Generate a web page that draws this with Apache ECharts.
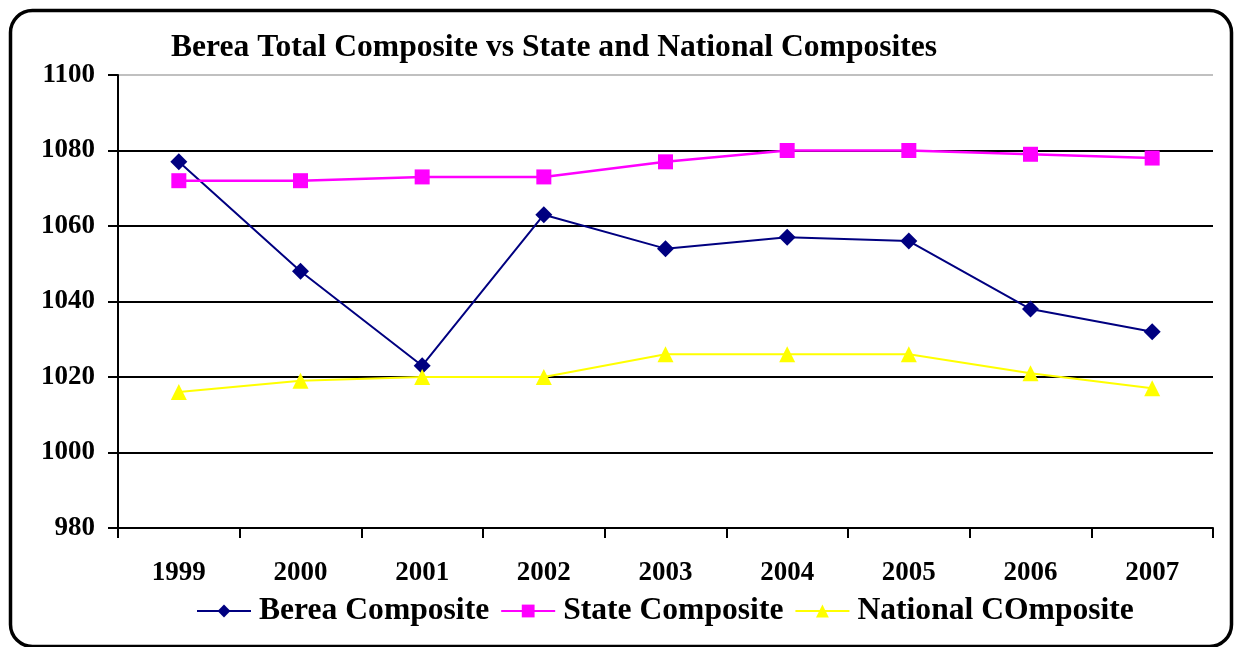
<!DOCTYPE html>
<html><head><meta charset="utf-8">
<script src="https://cdn.jsdelivr.net/npm/echarts@6/dist/echarts.min.js"></script>
<style>html,body{margin:0;padding:0;background:#fff}#c{width:1235px;height:647px}</style>
</head><body><div id="c"></div>
<script>
const categories = ['1999','2000','2001','2002','2003','2004','2005','2006','2007'];
const bereaComposite = [1077,1048,1023,1063,1054,1057,1056,1038,1032];
const stateComposite = [1072,1072,1073,1073,1077,1080,1080,1079,1078];
const nationalComposite = [1016,1019,1020,1020,1026,1026,1026,1021,1017];
const yTicks = {min:980, max:1100, interval:20};

const F = '"Liberation Serif","Times New Roman",serif';
const chart = echarts.init(document.getElementById('c'));
chart.setOption({
  animation:false,
  graphic:[{type:'rect', left:8, top:8, shape:{width:1221, height:636, r:22}, style:{fill:'none', stroke:'#000', lineWidth:3.5}, z:100}],
  title:{text:'Berea Total Composite vs State and National Composites', left:166, top:27,
    textStyle:{fontFamily:F, fontWeight:'bold', fontSize:31.6, color:'#000'}},
  legend:{top:590, left:191, itemWidth:54, itemHeight:16, itemGap:11,
    textStyle:{fontFamily:F, fontWeight:'bold', fontSize:31.6, color:'#000', padding:[0,0,0,3]},
    data:['Berea Composite','State Composite','National COmposite']},
  grid:{left:118, right:22, top:75, bottom:119},
  xAxis:{type:'category', data:categories, boundaryGap:true,
    axisLine:{lineStyle:{color:'#000', width:2}},
    axisTick:{show:true, length:10, lineStyle:{color:'#000', width:2}},
    axisLabel:{fontFamily:F, fontWeight:'bold', fontSize:27, color:'#000', margin:32}},
  yAxis:{type:'value', min:yTicks.min, max:yTicks.max, interval:yTicks.interval,
    axisLine:{show:true, lineStyle:{color:'#000', width:2}},
    axisTick:{show:true, length:10, lineStyle:{color:'#000', width:2}},
    axisLabel:{fontFamily:F, fontWeight:'bold', fontSize:27, color:'#000', margin:23, formatter:v=>String(v)},
    splitLine:{lineStyle:{color:['#000','#000','#000','#000','#000','#000','#c0c0c0'], width:2}}},
  series:[
    {name:'Berea Composite', type:'line', data:bereaComposite, symbol:'diamond', symbolSize:17,
      lineStyle:{color:'#000080', width:2}, itemStyle:{color:'#000080'}},
    {name:'State Composite', type:'line', data:stateComposite, symbol:'rect', symbolSize:15,
      lineStyle:{color:'#ff00ff', width:2.5}, itemStyle:{color:'#ff00ff'}},
    {name:'National COmposite', type:'line', data:nationalComposite, symbol:'triangle', symbolSize:16,
      lineStyle:{color:'#ffff00', width:2}, itemStyle:{color:'#ffff00'}}
  ]
});
</script></body></html>
